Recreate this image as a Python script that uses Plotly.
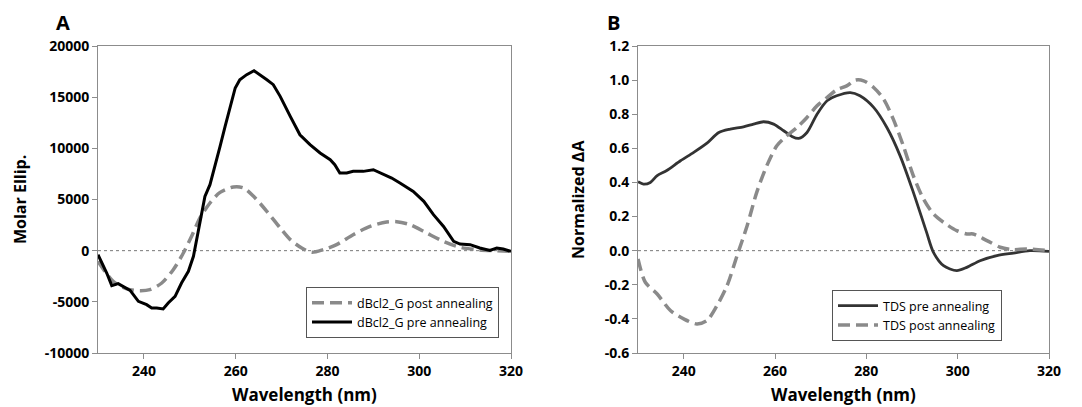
import plotly.graph_objects as go

# ---------- Panel A data ----------
a_pre_x = [230, 231.9, 233, 234.4, 237, 238.8, 240.6, 241.7, 242.8, 244.2, 245.3, 246.8, 248.2, 249.7,
           250.8, 251.5, 252.2, 253.3, 254.4, 255.5, 256.6, 257.7, 258.8, 259.9, 260.9, 262.4, 264.0,
           265.3, 266.8, 268.2, 269.7, 271.9, 274.0, 276.2, 278.4, 280.6, 281.6, 282.7, 284.2, 285.6,
           287.8, 290.0, 292.2, 294.0, 295.8, 298.7, 301.0, 303.1, 305.3, 307.5, 308.9, 311.1, 313.2,
           315.4, 316.9, 318.3, 320]
a_pre_y = [-400, -2180, -3420, -3220, -3880, -4950, -5280, -5600, -5600, -5700, -5110, -4460, -3160,
           -2020, -550, 1080, 3030, 5300, 6450, 8240, 10190, 12140, 14100, 15900, 16700, 17200, 17590,
           17200, 16700, 16220, 15080, 13120, 11330, 10360, 9550, 8890, 8400, 7590, 7590, 7750, 7750,
           7910, 7430, 7100, 6610, 5790, 4820, 3520, 2370, 910, 650, 590, 260, 30, 260, 160, -70]

a_post_x = [230, 233.3, 236.3, 239.2, 241.3, 243.9, 246.4, 248.6, 250.4, 252.2, 254.4, 256.6, 259.5,
            261.7, 263.9, 266.8, 269.7, 271.9, 274.4, 276.6, 279.1, 282.0, 285.6, 289.3, 292.9, 295.1,
            298.0, 301.6, 305.3, 308.9, 312.5, 316.1, 320]
a_post_y = [-1040, -3000, -3740, -3910, -3810, -3160, -1860, -230, 1400, 3190, 4660, 5700, 6220, 6130,
            5310, 3840, 2220, 1080, 260, -160, 100, 590, 1560, 2370, 2800, 2830, 2540, 1730, 910, 330,
            100, 0, -70]

# ---------- Panel B data ----------
b_pre_x = [230, 231.2, 232.7, 234.2, 236.3, 239.3, 242.2, 245.1, 247.7, 250.2, 253.1, 255.3, 257.5,
           259.7, 261.9, 263.7, 265.2, 267.0, 269.2, 271.4, 273.5, 276.5, 278.6, 281.6, 284.5, 287.4,
           290.3, 293.2, 294.7, 296.9, 299.8, 302.0, 304.9, 308.6, 312.2, 315.8, 320]
b_pre_y = [0.404, 0.39, 0.40, 0.44, 0.47, 0.527, 0.576, 0.63, 0.693, 0.713, 0.726, 0.742, 0.756, 0.742,
           0.703, 0.67, 0.658, 0.693, 0.80, 0.879, 0.908, 0.927, 0.908, 0.84, 0.722, 0.556, 0.342, 0.107,
           -0.01, -0.088, -0.117, -0.098, -0.059, -0.029, -0.014, 0.0, -0.004]

b_post_x = [230, 231.6, 234.2, 237.1, 240.0, 242.9, 245.1, 247.3, 249.5, 251.7, 253.9, 256.0, 258.2,
            260.4, 262.6, 264.8, 267.0, 269.2, 271.4, 273.5, 275.7, 277.6, 279.4, 281.6, 283.8, 285.9,
            288.1, 290.3, 292.5, 294.7, 296.9, 299.8, 302.0, 303.4, 306.4, 309.3, 312.2, 315.1, 320]
b_post_y = [-0.049, -0.185, -0.254, -0.351, -0.40, -0.43, -0.41, -0.322, -0.205, -0.029, 0.146, 0.342,
            0.498, 0.615, 0.674, 0.722, 0.781, 0.849, 0.898, 0.943, 0.966, 1.0, 0.996, 0.957, 0.888,
            0.771, 0.615, 0.439, 0.303, 0.215, 0.166, 0.117, 0.098, 0.098, 0.059, 0.02, 0.006, 0.01, 0.0]

# ---------- Tick labels ----------
x_ticks = [240, 260, 280, 300, 320]
x_ticktext = ["240", "260", "280", "300", "320"]
a_yticks = [-10000, -5000, 0, 5000, 10000, 15000, 20000]
a_yticktext = ["-10000", "-5000", "0", "5000", "10000", "15000", "20000"]
b_yticks = [-0.6, -0.4, -0.2, 0.0, 0.2, 0.4, 0.6, 0.8, 1.0, 1.2]
b_yticktext = ["-0.6", "-0.4", "-0.2", "0.0", "0.2", "0.4", "0.6", "0.8", "1.0", "1.2"]

FONT = "Open Sans"
GRAY = "#8a8a8a"
DASH = "12px,6px"

fig = go.Figure()

fig.add_trace(go.Scatter(x=a_post_x, y=a_post_y, mode="lines", name="dBcl2_G post annealing",
                         line=dict(color=GRAY, width=3.5, dash=DASH, shape="spline", smoothing=0.8),
                         xaxis="x", yaxis="y", legend="legend"))
fig.add_trace(go.Scatter(x=a_pre_x, y=a_pre_y, mode="lines", name="dBcl2_G pre annealing",
                         line=dict(color="black", width=3),
                         xaxis="x", yaxis="y", legend="legend"))
fig.add_trace(go.Scatter(x=b_pre_x, y=b_pre_y, mode="lines", name="TDS pre annealing",
                         line=dict(color="#333333", width=2.8, shape="spline", smoothing=0.8),
                         xaxis="x2", yaxis="y2", legend="legend2"))
fig.add_trace(go.Scatter(x=b_post_x, y=b_post_y, mode="lines", name="TDS post annealing",
                         line=dict(color=GRAY, width=3.5, dash=DASH, shape="spline", smoothing=0.8),
                         xaxis="x2", yaxis="y2", legend="legend2"))

W, H = 1082, 407
ydom = [(H - 353) / H, (H - 46) / H]

axis_common = dict(showgrid=False, zeroline=False, showline=True, mirror=True, automargin=False,
                   linecolor="#8c8c8c", linewidth=1, ticks="outside", ticklen=5,
                   tickcolor="#8c8c8c", tickfont=dict(family=FONT, size=14, color="black", weight="bold"))


def label(text, x, y, size, angle=0):
    return dict(text="<b>%s</b>" % text, x=x / W, y=(H - y) / H, xref="paper", yref="paper",
                xanchor="center", yanchor="middle", textangle=angle, showarrow=False,
                font=dict(family=FONT, size=size, color="black"))


fig.update_layout(
    template="none",
    width=W, height=H,
    margin=dict(l=0, r=0, t=0, b=0, autoexpand=False),
    paper_bgcolor="white", plot_bgcolor="white",
    font=dict(family=FONT, color="black"),
    xaxis=dict(domain=[98 / W, 511 / W], range=[230, 320], tickvals=x_ticks, ticktext=x_ticktext,
               anchor="y", **axis_common),
    yaxis=dict(domain=ydom, range=[-10000, 20000], tickvals=a_yticks, ticktext=a_yticktext,
               anchor="x", **axis_common),
    xaxis2=dict(domain=[638 / W, 1049 / W], range=[230, 320], tickvals=x_ticks, ticktext=x_ticktext,
                anchor="y2", **axis_common),
    yaxis2=dict(domain=ydom, range=[-0.6, 1.2], tickvals=b_yticks, ticktext=b_yticktext,
                anchor="x2", **axis_common),
    legend=dict(x=306 / W, y=(H - 287) / H, xanchor="left", yanchor="top",
                bordercolor="#555555", borderwidth=1, bgcolor="white",
                font=dict(family=FONT, size=12.5, color="black"), tracegroupgap=0,
                itemwidth=40),
    legend2=dict(x=832 / W, y=(H - 290) / H, xanchor="left", yanchor="top",
                 bordercolor="#555555", borderwidth=1, bgcolor="white",
                 font=dict(family=FONT, size=12.5, color="black"), tracegroupgap=0,
                 itemwidth=40),
    shapes=[
        dict(type="line", xref="x domain", yref="y", x0=0, x1=1, y0=0, y1=0,
             line=dict(color="#777777", width=1, dash="dot"), layer="below"),
        dict(type="line", xref="x2 domain", yref="y2", x0=0, x1=1, y0=0, y1=0,
             line=dict(color="#777777", width=1, dash="dot"), layer="below"),
    ],
    annotations=[
        label("A", 63, 22, 20),
        label("B", 613, 22, 20),
        label("Molar Ellip.", 20, 200, 16, -90),
        label("Normalized ΔA", 578, 200, 16, -90),
        label("Wavelength (nm)", 304, 394, 17),
        label("Wavelength (nm)", 843, 394, 17),
    ],
    showlegend=True,
)

fig.write_html("out.html")
